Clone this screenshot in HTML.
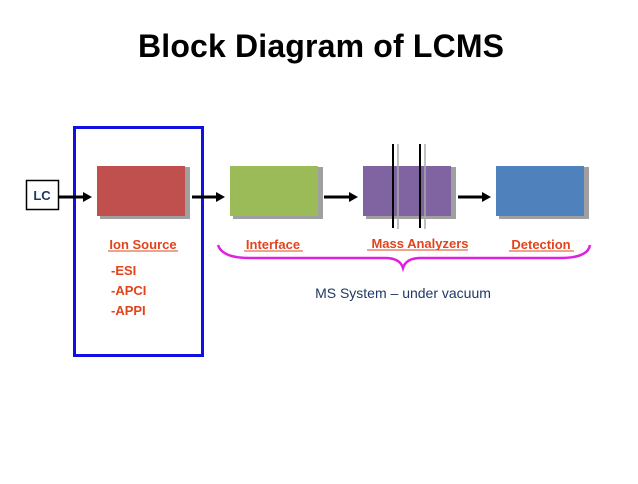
<!DOCTYPE html>
<html><head><style>
body{margin:0;width:638px;height:479px;background:#fff;overflow:hidden;font-family:"Liberation Sans",sans-serif;}
</style></head><body>
<svg width="638" height="479" xmlns="http://www.w3.org/2000/svg" font-family="Liberation Sans, sans-serif">
<text x="321" y="57" text-anchor="middle" font-size="32" font-weight="bold" fill="#000" textLength="366">Block Diagram of LCMS</text>
<rect x="74.5" y="127.5" width="128" height="228" fill="none" stroke="#1010e0" stroke-width="3"/>
<rect x="26.5" y="180.5" width="32" height="29" fill="#fff" stroke="#000" stroke-width="1.5"/>
<text x="42" y="200" text-anchor="middle" font-size="13" font-weight="bold" fill="#1f3864">LC</text>
<g>
<rect x="100" y="167" width="90" height="52" fill="#a0a0a0"/>
<rect x="97" y="166" width="88" height="50" fill="#c0504d"/>
<rect x="233" y="167" width="90" height="52" fill="#a0a0a0"/>
<rect x="230" y="166" width="88" height="50" fill="#9bbb59"/>
<rect x="366" y="167" width="90" height="52" fill="#a0a0a0"/>
<rect x="363" y="166" width="88" height="50" fill="#8064a2"/>
<rect x="499" y="167" width="90" height="52" fill="#a0a0a0"/>
<rect x="496" y="166" width="88" height="50" fill="#4f81bd"/>
</g>
<g stroke="#aaa" stroke-width="1.5"><line x1="398" y1="144" x2="398" y2="229"/><line x1="425" y1="144" x2="425" y2="229"/></g>
<g stroke="#000" stroke-width="2"><line x1="393" y1="144" x2="393" y2="228"/><line x1="420" y1="144" x2="420" y2="228"/></g>
<g stroke="#000" stroke-width="3">
<line x1="59" y1="197" x2="85" y2="197"/><line x1="192" y1="197" x2="218" y2="197"/>
<line x1="324" y1="197" x2="351" y2="197"/><line x1="458" y1="197" x2="484" y2="197"/>
</g>
<g fill="#000">
<polygon points="83,192 92,197 83,202"/><polygon points="216,192 225,197 216,202"/>
<polygon points="349,192 358,197 349,202"/><polygon points="482,192 491,197 482,202"/>
</g>
<g font-size="13" font-weight="bold" fill="#e0441c">
<text x="143" y="249" text-anchor="middle">Ion Source</text>
<text x="273" y="249" text-anchor="middle">Interface</text>
<text x="420" y="248" text-anchor="middle">Mass Analyzers</text>
<text x="541" y="249" text-anchor="middle">Detection</text>
</g>
<g stroke="#e0441c" stroke-width="1">
<line x1="108" y1="251" x2="178" y2="251"/><line x1="244" y1="251" x2="303" y2="251"/>
<line x1="367" y1="250" x2="468" y2="250"/><line x1="509" y1="251" x2="574" y2="251"/>
</g>
<g font-size="13" font-weight="bold" fill="#e0441c">
<text x="111" y="275">-ESI</text><text x="111" y="295">-APCI</text><text x="111" y="315">-APPI</text>
</g>
<path d="M218,245 Q222,258 250,258 L385,258 Q400,258 403,268 Q406,258 421,258 L560,258 Q588,258 590,245" fill="none" stroke="#e020e0" stroke-width="2.5"/>
<text x="403" y="298" text-anchor="middle" font-size="14" fill="#1f3864">MS System – under vacuum</text>
</svg>
</body></html>
